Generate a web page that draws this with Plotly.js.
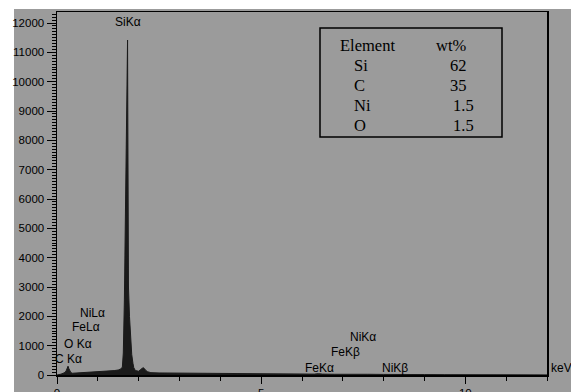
<!DOCTYPE html>
<html>
<head>
<meta charset="utf-8">
<script src="https://cdn.plot.ly/plotly-3.0.1.min.js"></script>
<style>
html,body{margin:0;padding:0;background:#ffffff;width:571px;height:392px;overflow:hidden;}
#bg{position:absolute;left:14px;top:9px;width:557px;height:383px;background:#9b9b9b;}
#chart{position:absolute;left:0;top:0;width:571px;height:392px;}
</style>
</head>
<body>
<div id="bg"></div>
<div id="chart"></div>
<script>
// EDS spectrum (energy in keV, counts)
const energy = [0.00,0.05,0.10,0.15,0.20,0.23,0.25,0.27,0.29,0.31,0.34,0.38,0.45,0.52,0.60,0.70,0.80,0.90,1.00,1.10,1.20,1.30,1.40,1.50,1.55,1.60,1.624,1.650,1.673,1.690,1.714,1.722,1.728,1.734,1.740,1.750,1.775,1.800,1.830,1.860,1.880,1.920,2.000,2.050,2.080,2.110,2.140,2.170,2.220,2.300,2.500,2.800,3.000,3.300,3.600,4.000,4.300,4.600,5.000,5.500,6.000,6.300,6.400,6.500,6.800,7.060,7.300,7.480,7.600,8.000,8.300,8.600,9.000,9.500,10.000,11.000,12.000];
const counts = [0,10,30,60,90,160,260,300,220,130,80,60,65,80,85,95,100,110,115,125,130,140,150,170,200,260,750,2560,5500,8000,9800,10800,11420,9000,6000,3000,2000,1200,700,400,250,150,130,190,230,250,220,160,110,80,70,65,60,55,50,45,45,40,35,30,25,30,45,30,25,30,25,35,25,20,25,20,15,12,10,6,4];

// Peak labels
const peakLabels = ['SiKα','NiLα','FeLα','O Kα','C Kα','NiKα','FeKβ','FeKα','NiKβ'];
const peakLabelX = [1.75, 0.86, 0.71, 0.52, 0.29, 7.49, 7.06, 6.43, 8.28];
const peakLabelY = [12040, 2125, 1647, 1057, 535, 1285, 794, 228, 228];

// Composition table
const tableHeader = ['Element','wt%'];
const elements = ['Si','C','Ni','O'];
const wtPct = ['62','35','1.5','1.5'];

const gray = '#9b9b9b';
const ink = '#000000';
const sans = 'Liberation Sans, Arial, sans-serif';

const annotations = [];
peakLabels.forEach((t,i)=>{
  annotations.push({x:peakLabelX[i], y:peakLabelY[i], xref:'x', yref:'y', text:t, showarrow:false,
    xanchor:'center', yanchor:'middle', font:{family:sans, size:12, color:ink}});
});
annotations.push({x:1.029, y:228, xref:'paper', yref:'y', text:'keV', showarrow:false,
  xanchor:'center', yanchor:'middle', font:{family:sans, size:12, color:ink}});

// table text (paper coords)
const px = v => (v-57)/490;
const py = v => (375-v)/363;
const tfont = {family:'Liberation Serif, Times New Roman, serif', size:16.5, color:'#000'};
annotations.push({x:px(338), y:py(45), xref:'paper', yref:'paper', text:tableHeader[0], showarrow:false, xanchor:'left', yanchor:'middle', font:tfont});
annotations.push({x:px(451), y:py(45), xref:'paper', yref:'paper', text:tableHeader[1], showarrow:false, xanchor:'center', yanchor:'middle', font:tfont});
elements.forEach((e,i)=>{
  const yy = py(65+20*i);
  annotations.push({x:px(352), y:yy, xref:'paper', yref:'paper', text:e, showarrow:false, xanchor:'left', yanchor:'middle', font:tfont});
  const w = wtPct[i];
  annotations.push({x:px(w.length>2?451:448), y:yy, xref:'paper', yref:'paper', text:w, showarrow:false, xanchor:'left', yanchor:'middle', font:tfont});
});

const data = [{
  type:'scatter', mode:'lines', x:energy, y:counts,
  line:{color:'#1a1a1a', width:1}, fill:'tozeroy', fillcolor:'#1a1a1a',
  hoverinfo:'skip'
}];

const layout = {
  width:571, height:392,
  margin:{l:57, r:24, t:12, b:17},
  paper_bgcolor:'rgba(0,0,0,0)', plot_bgcolor:gray,
  showlegend:false,
  font:{family:sans, size:12, color:ink},
  xaxis:{range:[0,12], tickmode:'linear', tick0:0, dtick:5, ticks:'outside', ticklen:7, tickwidth:1, tickcolor:'#000',
    minor:{dtick:1, ticks:'outside', ticklen:4, tickcolor:'#000', showgrid:false},
    showline:true, linecolor:'#000', linewidth:1.5, mirror:true, showgrid:false, zeroline:false,
    tickfont:{family:sans, size:11.5, color:ink}},
  yaxis:{range:[0,12375], tickmode:'linear', tick0:0, dtick:1000, ticks:'outside', ticklen:9, tickwidth:1, tickcolor:'#000',
    tickformat:'d',
    minor:{dtick:100, ticks:'outside', ticklen:4, tickcolor:'#000', showgrid:false},
    showline:true, linecolor:'#000', linewidth:1.5, mirror:true, showgrid:false, zeroline:false,
    tickfont:{family:sans, size:11.5, color:ink}},
  shapes:[{type:'rect', xref:'paper', yref:'paper', x0:px(320), x1:px(502), y0:py(137), y1:py(28),
    line:{color:'#000', width:1.5}, fillcolor:'rgba(0,0,0,0)'}],
  annotations:annotations
};

Plotly.newPlot('chart', data, layout, {displayModeBar:false, staticPlot:true});
</script>
</body>
</html>
